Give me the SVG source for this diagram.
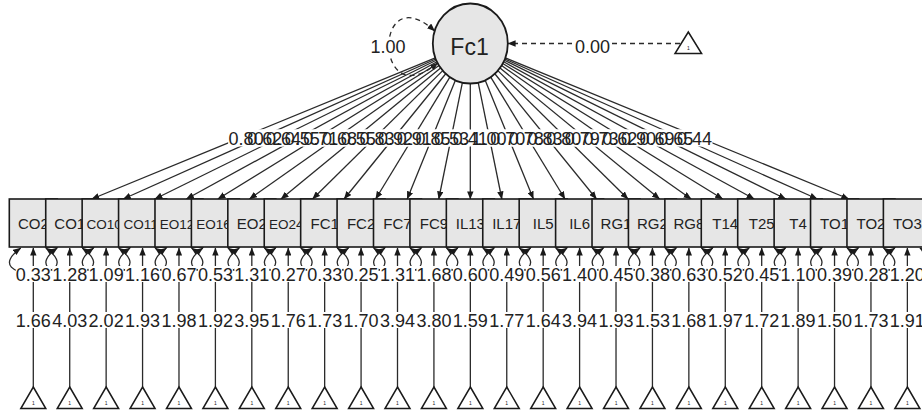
<svg xmlns="http://www.w3.org/2000/svg" xmlns:xlink="http://www.w3.org/1999/xlink" width="922" height="412" viewBox="0 0 922 412">
  <style>
    .edge{fill:none;stroke:#2a2a2a;stroke-width:1.3}
    .dash{stroke-dasharray:5 4}
    .box{fill:#e6e6e6;stroke:#1a1a1a;stroke-width:1.6}
    .lat{fill:#e6e6e6;stroke:#1a1a1a;stroke-width:1.8}
    .tri{fill:#fff;stroke:#1a1a1a;stroke-width:1.5}
    .nl{font-family:"Liberation Sans",Arial,sans-serif;font-size:15px;fill:#222;text-anchor:middle}
    .nl4{font-size:13.5px}
    .el{font-family:"Liberation Sans",Arial,sans-serif;font-size:18px;fill:#222;text-anchor:middle}
    .one{font-family:"Liberation Sans",Arial,sans-serif;font-size:5px;fill:#222;text-anchor:middle}
    .bg{fill:#fff}
  </style>
  <defs>
    <marker id="ah" viewBox="0 0 10 8" refX="9.5" refY="4" markerWidth="8" markerHeight="6.4" markerUnits="userSpaceOnUse" orient="auto-start-reverse">
      <path d="M0,0L10,4L0,8z" fill="#1a1a1a"/>
    </marker>
    <!-- residual variance loop below an indicator, centred on x=0 -->
    <path id="rl" class="edge" d="M-12.5,248C-60,282 60,282 12.5,248" marker-start="url(#ah)" marker-end="url(#ah)"/>
    <!-- intercept line from the constant triangle up to an indicator -->
    <path id="il" class="edge" d="M0,387V248" marker-end="url(#ah)"/>
    <!-- constant (triangle) node -->
    <g id="tr">
      <path class="tri" d="M0,387L12.5,408.5L-12.5,408.5Z"/>
      <text class="one" x="0" y="405">1</text>
    </g>
  </defs>

  <!-- connectors -->
  <g id="connectors">
    <!-- factor variance and mean -->
    <path class="edge dash" d="M434.7,31C373,-25 373,117 437.6,63" marker-start="url(#ah)" marker-end="url(#ah)"/>
    <path class="edge dash" d="M680,43.5H508" marker-end="url(#ah)"/>
    <!-- loadings -->
    <g marker-end="url(#ah)">
      <path class="edge" d="M435.31,57.87L91.70,199"/>
      <path class="edge" d="M435.73,58.99L123.24,199"/>
      <path class="edge" d="M436.26,60.28L154.80,199"/>
      <path class="edge" d="M436.94,61.77L186.35,199"/>
      <path class="edge" d="M437.83,63.51L217.90,199"/>
      <path class="edge" d="M439.00,65.54L249.45,199"/>
      <path class="edge" d="M440.59,67.91L281.00,199"/>
      <path class="edge" d="M442.76,70.65L312.55,199"/>
      <path class="edge" d="M445.76,73.74L344.10,199"/>
      <path class="edge" d="M449.88,77.05L375.65,199"/>
      <path class="edge" d="M455.40,80.21L407.20,199"/>
      <path class="edge" d="M462.37,82.59L438.75,199"/>
      <path class="edge" d="M470.30,83.50L470.30,199"/>
      <path class="edge" d="M478.23,82.59L501.85,199"/>
      <path class="edge" d="M485.20,80.21L533.40,199"/>
      <path class="edge" d="M490.72,77.05L564.95,199"/>
      <path class="edge" d="M494.84,73.74L596.50,199"/>
      <path class="edge" d="M497.84,70.65L628.05,199"/>
      <path class="edge" d="M500.01,67.91L659.60,199"/>
      <path class="edge" d="M501.60,65.54L691.15,199"/>
      <path class="edge" d="M502.77,63.51L722.70,199"/>
      <path class="edge" d="M503.66,61.77L754.25,199"/>
      <path class="edge" d="M504.34,60.28L785.80,199"/>
      <path class="edge" d="M504.87,58.99L817.36,199"/>
      <path class="edge" d="M505.29,57.87L848.90,199"/>
    </g>
    <!-- residual variances -->
    <use href="#rl" x="33.30"/><use href="#rl" x="69.72"/><use href="#rl" x="106.14"/><use href="#rl" x="142.56"/><use href="#rl" x="178.98"/>
    <use href="#rl" x="215.40"/><use href="#rl" x="251.82"/><use href="#rl" x="288.24"/><use href="#rl" x="324.66"/><use href="#rl" x="361.08"/>
    <use href="#rl" x="397.50"/><use href="#rl" x="433.92"/><use href="#rl" x="470.34"/><use href="#rl" x="506.76"/><use href="#rl" x="543.18"/>
    <use href="#rl" x="579.60"/><use href="#rl" x="616.02"/><use href="#rl" x="652.44"/><use href="#rl" x="688.86"/><use href="#rl" x="725.28"/>
    <use href="#rl" x="761.70"/><use href="#rl" x="798.12"/><use href="#rl" x="834.54"/><use href="#rl" x="870.96"/><use href="#rl" x="907.38"/>
    <!-- intercepts -->
    <use href="#il" x="33.30"/><use href="#il" x="69.72"/><use href="#il" x="106.14"/><use href="#il" x="142.56"/><use href="#il" x="178.98"/>
    <use href="#il" x="215.40"/><use href="#il" x="251.82"/><use href="#il" x="288.24"/><use href="#il" x="324.66"/><use href="#il" x="361.08"/>
    <use href="#il" x="397.50"/><use href="#il" x="433.92"/><use href="#il" x="470.34"/><use href="#il" x="506.76"/><use href="#il" x="543.18"/>
    <use href="#il" x="579.60"/><use href="#il" x="616.02"/><use href="#il" x="652.44"/><use href="#il" x="688.86"/><use href="#il" x="725.28"/>
    <use href="#il" x="761.70"/><use href="#il" x="798.12"/><use href="#il" x="834.54"/><use href="#il" x="870.96"/><use href="#il" x="907.38"/>
  </g>

  <!-- edge labels: backgrounds first, then the numbers -->
  <g id="edge-labels">
    <rect class="bg" x="370" y="38" width="36" height="17"/>
    <rect class="bg" x="574.5" y="38" width="36" height="17"/>
    <g class="bg">
      <rect x="228.14" y="129.5" width="36" height="17"/><rect x="246.82" y="129.5" width="36" height="17"/><rect x="265.50" y="129.5" width="36" height="17"/>
      <rect x="284.18" y="129.5" width="36" height="17"/><rect x="302.86" y="129.5" width="36" height="17"/><rect x="321.54" y="129.5" width="36" height="17"/>
      <rect x="340.22" y="129.5" width="36" height="17"/><rect x="358.90" y="129.5" width="36" height="17"/><rect x="377.58" y="129.5" width="36" height="17"/>
      <rect x="396.26" y="129.5" width="36" height="17"/><rect x="414.94" y="129.5" width="36" height="17"/><rect x="433.62" y="129.5" width="36" height="17"/>
      <rect x="452.30" y="129.5" width="36" height="17"/><rect x="470.98" y="129.5" width="36" height="17"/><rect x="489.66" y="129.5" width="36" height="17"/>
      <rect x="508.34" y="129.5" width="36" height="17"/><rect x="527.02" y="129.5" width="36" height="17"/><rect x="545.70" y="129.5" width="36" height="17"/>
      <rect x="564.38" y="129.5" width="36" height="17"/><rect x="583.06" y="129.5" width="36" height="17"/><rect x="601.74" y="129.5" width="36" height="17"/>
      <rect x="620.42" y="129.5" width="36" height="17"/><rect x="639.10" y="129.5" width="36" height="17"/><rect x="657.78" y="129.5" width="36" height="17"/>
      <rect x="676.46" y="129.5" width="36" height="17"/>
    </g>
    <text class="el" x="388" y="53">1.00</text>
    <text class="el" x="592.5" y="53">0.00</text>
    <g class="el">
      <text x="246.14" y="144.5">0.80</text><text x="264.82" y="144.5">0.62</text><text x="283.50" y="144.5">0.64</text>
      <text x="302.18" y="144.5">0.55</text><text x="320.86" y="144.5">0.71</text><text x="339.54" y="144.5">0.68</text>
      <text x="358.22" y="144.5">0.55</text><text x="376.90" y="144.5">0.83</text><text x="395.58" y="144.5">0.92</text>
      <text x="414.26" y="144.5">0.91</text><text x="432.94" y="144.5">0.85</text><text x="451.62" y="144.5">0.53</text>
      <text x="470.30" y="144.5">0.41</text><text x="488.98" y="144.5">1.00</text><text x="507.66" y="144.5">0.70</text>
      <text x="526.34" y="144.5">0.78</text><text x="545.02" y="144.5">0.83</text><text x="563.70" y="144.5">0.80</text>
      <text x="582.38" y="144.5">0.79</text><text x="601.06" y="144.5">0.73</text><text x="619.74" y="144.5">0.62</text>
      <text x="638.42" y="144.5">0.90</text><text x="657.10" y="144.5">0.69</text><text x="675.78" y="144.5">0.65</text>
      <text x="694.46" y="144.5">0.44</text>
    </g>
    <!-- residual variances -->
    <g class="bg">
      <rect x="15.8" y="266" width="35" height="16"/><rect x="52.22" y="266" width="35" height="16"/><rect x="88.64" y="266" width="35" height="16"/>
      <rect x="125.06" y="266" width="35" height="16"/><rect x="161.48" y="266" width="35" height="16"/><rect x="197.90" y="266" width="35" height="16"/>
      <rect x="234.32" y="266" width="35" height="16"/><rect x="270.74" y="266" width="35" height="16"/><rect x="307.16" y="266" width="35" height="16"/>
      <rect x="343.58" y="266" width="35" height="16"/><rect x="380.00" y="266" width="35" height="16"/><rect x="416.42" y="266" width="35" height="16"/>
      <rect x="452.84" y="266" width="35" height="16"/><rect x="489.26" y="266" width="35" height="16"/><rect x="525.68" y="266" width="35" height="16"/>
      <rect x="562.10" y="266" width="35" height="16"/><rect x="598.52" y="266" width="35" height="16"/><rect x="634.94" y="266" width="35" height="16"/>
      <rect x="671.36" y="266" width="35" height="16"/><rect x="707.78" y="266" width="35" height="16"/><rect x="744.20" y="266" width="35" height="16"/>
      <rect x="780.62" y="266" width="35" height="16"/><rect x="817.04" y="266" width="35" height="16"/><rect x="853.46" y="266" width="35" height="16"/>
      <rect x="889.88" y="266" width="35" height="16"/>
    </g>
    <g class="el">
      <text x="33.30" y="280.5">0.33</text><text x="69.72" y="280.5">1.28</text><text x="106.14" y="280.5">1.09</text>
      <text x="142.56" y="280.5">1.16</text><text x="178.98" y="280.5">0.67</text><text x="215.40" y="280.5">0.53</text>
      <text x="251.82" y="280.5">1.31</text><text x="288.24" y="280.5">0.27</text><text x="324.66" y="280.5">0.33</text>
      <text x="361.08" y="280.5">0.25</text><text x="397.50" y="280.5">1.31</text><text x="433.92" y="280.5">1.68</text>
      <text x="470.34" y="280.5">0.60</text><text x="506.76" y="280.5">0.49</text><text x="543.18" y="280.5">0.56</text>
      <text x="579.60" y="280.5">1.40</text><text x="616.02" y="280.5">0.45</text><text x="652.44" y="280.5">0.38</text>
      <text x="688.86" y="280.5">0.63</text><text x="725.28" y="280.5">0.52</text><text x="761.70" y="280.5">0.45</text>
      <text x="798.12" y="280.5">1.10</text><text x="834.54" y="280.5">0.39</text><text x="870.96" y="280.5">0.28</text>
      <text x="907.38" y="280.5">1.20</text>
    </g>
    <!-- intercepts -->
    <g class="bg">
      <rect x="15.8" y="312" width="35" height="16"/><rect x="52.22" y="312" width="35" height="16"/><rect x="88.64" y="312" width="35" height="16"/>
      <rect x="125.06" y="312" width="35" height="16"/><rect x="161.48" y="312" width="35" height="16"/><rect x="197.90" y="312" width="35" height="16"/>
      <rect x="234.32" y="312" width="35" height="16"/><rect x="270.74" y="312" width="35" height="16"/><rect x="307.16" y="312" width="35" height="16"/>
      <rect x="343.58" y="312" width="35" height="16"/><rect x="380.00" y="312" width="35" height="16"/><rect x="416.42" y="312" width="35" height="16"/>
      <rect x="452.84" y="312" width="35" height="16"/><rect x="489.26" y="312" width="35" height="16"/><rect x="525.68" y="312" width="35" height="16"/>
      <rect x="562.10" y="312" width="35" height="16"/><rect x="598.52" y="312" width="35" height="16"/><rect x="634.94" y="312" width="35" height="16"/>
      <rect x="671.36" y="312" width="35" height="16"/><rect x="707.78" y="312" width="35" height="16"/><rect x="744.20" y="312" width="35" height="16"/>
      <rect x="780.62" y="312" width="35" height="16"/><rect x="817.04" y="312" width="35" height="16"/><rect x="853.46" y="312" width="35" height="16"/>
      <rect x="889.88" y="312" width="35" height="16"/>
    </g>
    <g class="el">
      <text x="33.30" y="326.7">1.66</text><text x="69.72" y="326.7">4.03</text><text x="106.14" y="326.7">2.02</text>
      <text x="142.56" y="326.7">1.93</text><text x="178.98" y="326.7">1.98</text><text x="215.40" y="326.7">1.92</text>
      <text x="251.82" y="326.7">3.95</text><text x="288.24" y="326.7">1.76</text><text x="324.66" y="326.7">1.73</text>
      <text x="361.08" y="326.7">1.70</text><text x="397.50" y="326.7">3.94</text><text x="433.92" y="326.7">3.80</text>
      <text x="470.34" y="326.7">1.59</text><text x="506.76" y="326.7">1.77</text><text x="543.18" y="326.7">1.64</text>
      <text x="579.60" y="326.7">3.94</text><text x="616.02" y="326.7">1.93</text><text x="652.44" y="326.7">1.53</text>
      <text x="688.86" y="326.7">1.68</text><text x="725.28" y="326.7">1.97</text><text x="761.70" y="326.7">1.72</text>
      <text x="798.12" y="326.7">1.89</text><text x="834.54" y="326.7">1.50</text><text x="870.96" y="326.7">1.73</text>
      <text x="907.38" y="326.7">1.91</text>
    </g>
  </g>

  <!-- latent factor and its constant -->
  <g id="Fc1">
    <ellipse class="lat" cx="470.3" cy="43.5" rx="37.5" ry="40"/>
    <text x="469.5" y="55" font-family="Liberation Sans, Arial, sans-serif" font-size="23" fill="#222" text-anchor="middle">Fc1</text>
  </g>
  <g id="const-Fc1">
    <path class="tri" d="M688.3,32L701.6,53.5L675,53.5Z"/>
    <text class="one" x="688.3" y="50">1</text>
  </g>

  <!-- indicators: 48x48 squares, each drawn over the right part of the one before -->
  <g id="CO2"><rect class="box" x="9.30" y="199" width="48" height="48"/><text class="nl" x="33.30" y="229">CO2</text></g>
  <g id="CO1"><rect class="box" x="45.72" y="199" width="48" height="48"/><text class="nl" x="69.72" y="229">CO1</text></g>
  <g id="CO10"><rect class="box" x="82.14" y="199" width="48" height="48"/><text class="nl nl4" x="104.14" y="228.5">CO10</text></g>
  <g id="CO11"><rect class="box" x="118.56" y="199" width="48" height="48"/><text class="nl nl4" x="140.56" y="228.5">CO11</text></g>
  <g id="EO12"><rect class="box" x="154.98" y="199" width="48" height="48"/><text class="nl nl4" x="176.98" y="228.5">EO12</text></g>
  <g id="EO16"><rect class="box" x="191.40" y="199" width="48" height="48"/><text class="nl nl4" x="213.40" y="228.5">EO16</text></g>
  <g id="EO2"><rect class="box" x="227.82" y="199" width="48" height="48"/><text class="nl" x="251.82" y="229">EO2</text></g>
  <g id="EO24"><rect class="box" x="264.24" y="199" width="48" height="48"/><text class="nl nl4" x="286.24" y="228.5">EO24</text></g>
  <g id="FC1"><rect class="box" x="300.66" y="199" width="48" height="48"/><text class="nl" x="324.66" y="229">FC1</text></g>
  <g id="FC2"><rect class="box" x="337.08" y="199" width="48" height="48"/><text class="nl" x="361.08" y="229">FC2</text></g>
  <g id="FC7"><rect class="box" x="373.50" y="199" width="48" height="48"/><text class="nl" x="397.50" y="229">FC7</text></g>
  <g id="FC9"><rect class="box" x="409.92" y="199" width="48" height="48"/><text class="nl" x="433.92" y="229">FC9</text></g>
  <g id="IL13"><rect class="box" x="446.34" y="199" width="48" height="48"/><text class="nl" x="470.34" y="229">IL13</text></g>
  <g id="IL17"><rect class="box" x="482.76" y="199" width="48" height="48"/><text class="nl" x="506.76" y="229">IL17</text></g>
  <g id="IL5"><rect class="box" x="519.18" y="199" width="48" height="48"/><text class="nl" x="543.18" y="229">IL5</text></g>
  <g id="IL6"><rect class="box" x="555.60" y="199" width="48" height="48"/><text class="nl" x="579.60" y="229">IL6</text></g>
  <g id="RG1"><rect class="box" x="592.02" y="199" width="48" height="48"/><text class="nl" x="616.02" y="229">RG1</text></g>
  <g id="RG2"><rect class="box" x="628.44" y="199" width="48" height="48"/><text class="nl" x="652.44" y="229">RG2</text></g>
  <g id="RG8"><rect class="box" x="664.86" y="199" width="48" height="48"/><text class="nl" x="688.86" y="229">RG8</text></g>
  <g id="T14"><rect class="box" x="701.28" y="199" width="48" height="48"/><text class="nl" x="725.28" y="229">T14</text></g>
  <g id="T25"><rect class="box" x="737.70" y="199" width="48" height="48"/><text class="nl" x="761.70" y="229">T25</text></g>
  <g id="T4"><rect class="box" x="774.12" y="199" width="48" height="48"/><text class="nl" x="798.12" y="229">T4</text></g>
  <g id="TO1"><rect class="box" x="810.54" y="199" width="48" height="48"/><text class="nl" x="834.54" y="229">TO1</text></g>
  <g id="TO2"><rect class="box" x="846.96" y="199" width="48" height="48"/><text class="nl" x="870.96" y="229">TO2</text></g>
  <g id="TO3"><rect class="box" x="883.38" y="199" width="48" height="48"/><text class="nl" x="907.38" y="229">TO3</text></g>

  <!-- intercept constants -->
  <g id="const-CO2"><use href="#tr" x="33.30"/></g>
  <g id="const-CO1"><use href="#tr" x="69.72"/></g>
  <g id="const-CO10"><use href="#tr" x="106.14"/></g>
  <g id="const-CO11"><use href="#tr" x="142.56"/></g>
  <g id="const-EO12"><use href="#tr" x="178.98"/></g>
  <g id="const-EO16"><use href="#tr" x="215.40"/></g>
  <g id="const-EO2"><use href="#tr" x="251.82"/></g>
  <g id="const-EO24"><use href="#tr" x="288.24"/></g>
  <g id="const-FC1"><use href="#tr" x="324.66"/></g>
  <g id="const-FC2"><use href="#tr" x="361.08"/></g>
  <g id="const-FC7"><use href="#tr" x="397.50"/></g>
  <g id="const-FC9"><use href="#tr" x="433.92"/></g>
  <g id="const-IL13"><use href="#tr" x="470.34"/></g>
  <g id="const-IL17"><use href="#tr" x="506.76"/></g>
  <g id="const-IL5"><use href="#tr" x="543.18"/></g>
  <g id="const-IL6"><use href="#tr" x="579.60"/></g>
  <g id="const-RG1"><use href="#tr" x="616.02"/></g>
  <g id="const-RG2"><use href="#tr" x="652.44"/></g>
  <g id="const-RG8"><use href="#tr" x="688.86"/></g>
  <g id="const-T14"><use href="#tr" x="725.28"/></g>
  <g id="const-T25"><use href="#tr" x="761.70"/></g>
  <g id="const-T4"><use href="#tr" x="798.12"/></g>
  <g id="const-TO1"><use href="#tr" x="834.54"/></g>
  <g id="const-TO2"><use href="#tr" x="870.96"/></g>
  <g id="const-TO3"><use href="#tr" x="907.38"/></g>
</svg>
